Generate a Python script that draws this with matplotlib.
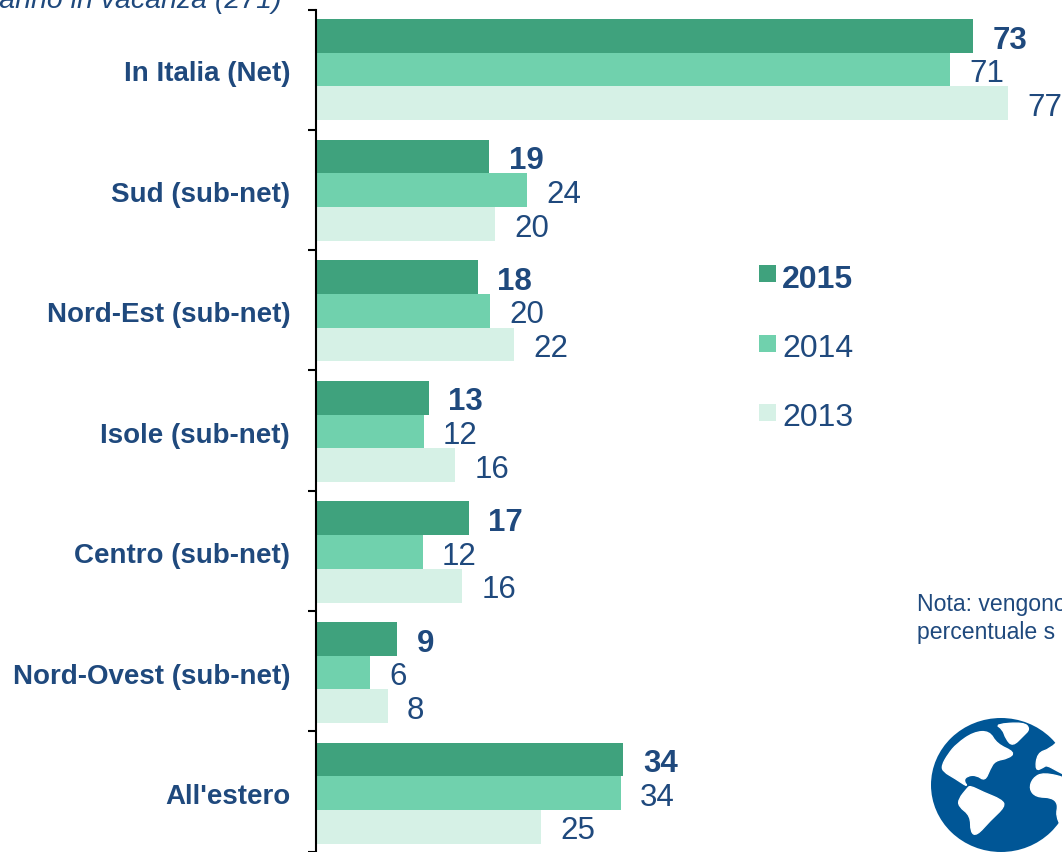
import matplotlib
matplotlib.use("Agg")
import matplotlib.pyplot as plt
from matplotlib.patches import Ellipse, PathPatch, Rectangle
from matplotlib.path import Path

plt.rcParams['font.family'] = ['Liberation Sans', 'DejaVu Sans']

categories = ["In Italia (Net)", "Sud (sub-net)", "Nord-Est (sub-net)", "Isole (sub-net)",
              "Centro (sub-net)", "Nord-Ovest (sub-net)", "All'estero"]
years = ["2015", "2014", "2013"]
# bar lengths; printed labels below
bars_2015 = [73.0, 19.3, 18.0, 12.6, 17.0, 9.1, 34.2]
bars_2014 = [70.5, 23.5, 19.4, 12.0, 11.9, 6.0, 33.9]
bars_2013 = [76.9, 19.9, 22.0, 15.5, 16.3, 8.0, 25.0]
labels_2015 = [73, 19, 18, 13, 17, 9, 34]
labels_2014 = [71, 24, 20, 12, 12, 6, 34]
labels_2013 = [77, 20, 22, 16, 16, 8, 25]
colors = ["#3FA27D", "#70D1AD", "#D6F1E6"]
text_color = "#1F497D"
globe_color = "#005696"

W, H = 1062, 853
fig = plt.figure(figsize=(W / 100, H / 100), dpi=100, facecolor="white")
ax = fig.add_axes([315.5 / W, 1 - 852.5 / H, (W - 315.5) / W, (852.5 - 10.5) / H])
ax.set_xlim(0, (W - 315.5) / 9.005)
ax.set_ylim(6.5, -0.5)

bar_h = 0.28
pitch = 1.0025
series = [(bars_2015, labels_2015, "bold"), (bars_2014, labels_2014, "normal"), (bars_2013, labels_2013, "normal")]
for s, (vals, labs, weight) in enumerate(series):
    for i, (v, lab) in enumerate(zip(vals, labs)):
        y = i * pitch + (s - 1) * bar_h
        ax.barh(y, v, height=bar_h, color=colors[s], linewidth=0)
        ax.annotate(str(lab), (v, y), xytext=(14, -2.6), textcoords="offset points",
                    ha="left", va="center", fontsize=22.5, color=text_color,
                    fontweight=weight, annotation_clip=False)

for sp in ["top", "right", "bottom"]:
    ax.spines[sp].set_visible(False)
ax.spines["left"].set_linewidth(1.5)
ax.xaxis.set_visible(False)
ax.set_yticks([i - 0.5 for i in range(8)])
ax.set_yticklabels([])
ax.tick_params(axis="y", length=5.8, width=1.5, color="black")
for i, c in enumerate(categories):
    ax.annotate(c, (0, i * pitch), xytext=(-18.2, -2.4), textcoords="offset points", ha="right", va="center",
                fontsize=20, fontweight="bold", color=text_color, annotation_clip=False)

# overlay in image pixel coordinates for legend, notes and the globe icon
ov = fig.add_axes([0, 0, 1, 1], facecolor="none")
ov.set_xlim(0, W)
ov.set_ylim(H, 0)
ov.axis("off")

for k, (yr, c) in enumerate(zip(years, colors)):
    ys = [274, 344, 413][k]
    yt = [280, 349, 418.5][k]
    ov.add_patch(Rectangle((759, ys - 8.5), 17, 17, facecolor=c, edgecolor="none"))
    ov.text(782, yt, yr, ha="left", va="center", fontsize=23, color=text_color,
            fontweight="bold" if k == 0 else "normal")

ov.text(282, 0.5, "Andranno in vacanza (271)", ha="right", va="center", fontsize=20.5,
        style="italic", color=text_color)
ov.text(917, 604.5, "Nota: vengono", ha="left", va="center", fontsize=16.6, color=text_color)
ov.text(917, 633, "percentuale s", ha="left", va="center", fontsize=16.6, color=text_color)

# globe icon
ov.add_patch(Ellipse((1001, 786), 140, 134, facecolor=globe_color, edgecolor="none"))

def smooth(z):
    p = [(880 + x / 3, 570 + y / 3) for x, y in z]
    n = len(p)
    mids = [((p[i][0] + p[(i + 1) % n][0]) / 2, (p[i][1] + p[(i + 1) % n][1]) / 2) for i in range(n)]
    verts = [mids[-1]]
    codes = [Path.MOVETO]
    for i in range(n):
        verts += [p[i], mids[i]]
        codes += [Path.CURVE3, Path.CURVE3]
    return Path(verts, codes)

lands = [
    [(185,590),(205,555),(230,525),(280,490),(328,486),(350,525),(405,550),(385,568),(345,575),(330,600),(315,636),(290,618),(262,620),(250,635),(265,655),(225,628),(190,608)],
    [(345,466),(432,460),(450,480),(430,500),(398,532),(378,510),(368,480)],
    [(262,658),(236,690),(236,712),(272,740),(272,790),(290,800),(330,755),(376,712),(365,692),(310,670),(270,650)],
    [(546,505),(510,540),(472,552),(466,606),(490,595),(500,588),(530,605),(570,625),(600,600),(620,540),(580,495)],
    [(570,630),(490,610),(458,628),(448,660),(468,684),(515,685),(535,705),(528,740),(546,778),(575,795),(600,740),(610,670)],
]
for z in lands:
    ov.add_patch(PathPatch(smooth(z), facecolor="white", edgecolor="white", linewidth=1))

fig.savefig("out.png", dpi=100)
